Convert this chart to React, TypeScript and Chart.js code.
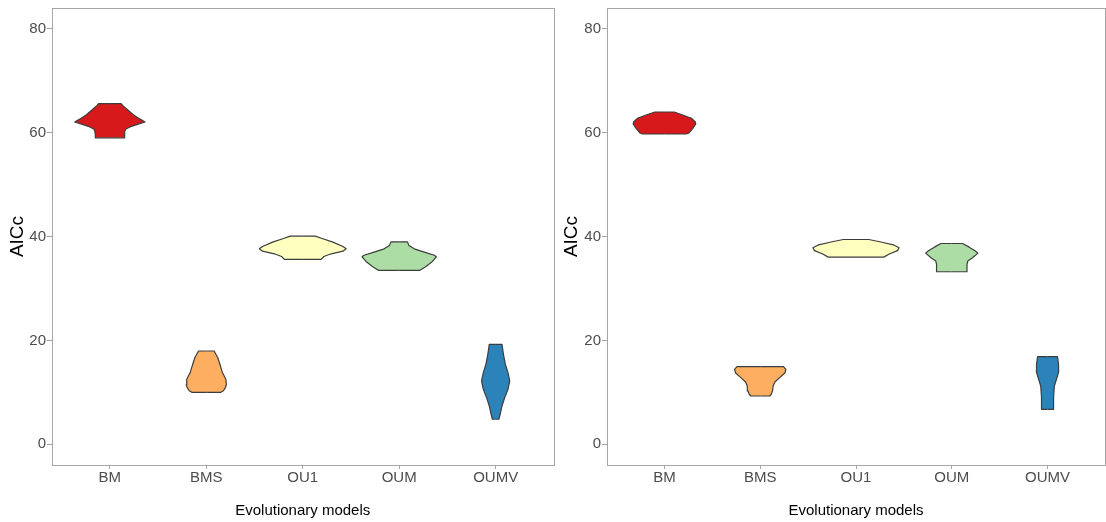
import React, { useEffect, useRef } from 'react';
import { Chart, registerables } from 'chart.js';

Chart.register(...registerables);

const CATEGORIES = ['BM', 'BMS', 'OU1', 'OUM', 'OUMV'];
const FILL_COLORS = ['#D7191C', '#FDAE61', '#FFFFBF', '#ABDDA4', '#2B83BA'];
const Y_TICKS = [0, 20, 40, 60, 80];
const Y_MIN = -4;
const Y_MAX = 84;
const X_TITLE = 'Evolutionary models';
const Y_TITLE = 'AICc';

// Violin profiles: AICc level (y) and half-width in category units (w)
// Left panel
const L_BM_Y = [59.0, 59.6, 60.25, 60.7, 61.1, 61.55, 62.05, 62.6, 63.45, 64.55, 65.2, 65.6];
const L_BM_W = [0.151, 0.151, 0.156, 0.167, 0.208, 0.278, 0.365, 0.313, 0.243, 0.174, 0.135, 0.117];
const L_BMS_Y = [10.0, 10.3, 10.9, 11.5, 12.5, 13.8, 15.1, 16.7, 17.95];
const L_BMS_W = [0.151, 0.177, 0.198, 0.208, 0.203, 0.167, 0.146, 0.118, 0.081];
const L_OU1_Y = [35.58, 36.15, 36.67, 37.18, 37.63, 38.08, 38.91, 39.62, 40.06];
const L_OU1_W = [0.19, 0.219, 0.295, 0.417, 0.45, 0.417, 0.313, 0.2, 0.13];
const L_OUM_Y = [33.46, 34.23, 35.19, 36.09, 36.38, 36.99, 37.63, 38.27, 38.97];
const L_OUM_W = [0.211, 0.278, 0.344, 0.385, 0.365, 0.26, 0.156, 0.101, 0.086];
const L_OUMV_Y = [4.81, 5.77, 7.37, 8.97, 10.58, 12.18, 13.78, 15.38, 17.31, 19.23];
const L_OUMV_W = [0.034, 0.047, 0.066, 0.094, 0.128, 0.146, 0.128, 0.101, 0.081, 0.066];

// Right panel
const R_BM_Y = [59.74, 59.94, 60.9, 61.73, 62.05, 62.76, 63.4, 63.97];
const R_BM_W = [0.229, 0.257, 0.3, 0.328, 0.323, 0.281, 0.191, 0.101];
const R_BMS_Y = [9.29, 9.62, 10.26, 11.22, 11.99, 12.82, 13.72, 14.42, 14.94];
const R_BMS_W = [0.099, 0.115, 0.128, 0.135, 0.153, 0.203, 0.257, 0.268, 0.243];
const R_OU1_Y = [36.03, 36.63, 37.28, 37.82, 38.4, 38.94, 39.42];
const R_OU1_W = [0.29, 0.347, 0.434, 0.45, 0.39, 0.26, 0.133];
const R_OUM_Y = [33.21, 34.62, 35.26, 35.9, 36.8, 37.24, 37.95, 38.65];
const R_OUM_W = [0.156, 0.159, 0.167, 0.217, 0.273, 0.243, 0.182, 0.113];
const R_OUMV_Y = [6.73, 8.97, 11.22, 12.82, 14.1, 15.38, 16.86];
const R_OUMV_W = [0.063, 0.063, 0.071, 0.099, 0.118, 0.115, 0.104];

const LEFT_Y = [L_BM_Y, L_BMS_Y, L_OU1_Y, L_OUM_Y, L_OUMV_Y];
const LEFT_W = [L_BM_W, L_BMS_W, L_OU1_W, L_OUM_W, L_OUMV_W];
const RIGHT_Y = [R_BM_Y, R_BMS_Y, R_OU1_Y, R_OUM_Y, R_OUMV_Y];
const RIGHT_W = [R_BM_W, R_BMS_W, R_OU1_W, R_OUM_W, R_OUMV_W];

const OUTLINE = '#3d3d3d';
const FRAME = '#a6a6a6';
const TICK_TEXT = '#4d4d4d';
const FONT = "'Liberation Sans', Arial, Helvetica, sans-serif";

function buildDatasets(ys: number[][], ws: number[][]) {
  const datasets: any[] = [];
  CATEGORIES.forEach((cat, i) => {
    const c = i + 1;
    const y = ys[i];
    const w = ws[i];
    const n = y.length;
    const edge = (sign: number) => [
      { x: c, y: y[0] },
      ...y.map((v, k) => ({ x: c + sign * w[k], y: v })),
      { x: c, y: y[n - 1] },
    ];
    const common = {
      borderColor: OUTLINE,
      borderWidth: 1.2,
      borderJoinStyle: 'round',
      pointRadius: 0,
      pointHoverRadius: 0,
      tension: 0,
    };
    datasets.push({ ...common, label: cat, data: edge(1), fill: '+1', backgroundColor: FILL_COLORS[i] });
    datasets.push({ ...common, label: cat + '-left', data: edge(-1), fill: false, backgroundColor: FILL_COLORS[i] });
  });
  return datasets;
}

const framePlugin = {
  id: 'frame',
  afterDraw(chart: any) {
    const { ctx, chartArea: a } = chart;
    const l = Math.round(a.left);
    const t = Math.round(a.top);
    const r = Math.round(a.right);
    const b = Math.round(a.bottom);
    ctx.save();
    ctx.strokeStyle = FRAME;
    ctx.lineWidth = 1;
    ctx.strokeRect(l + 0.5, t + 0.5, r - l, b - t);
    ctx.restore();
  },
};

type PanelProps = {
  ys: number[][];
  ws: number[][];
  left: number;
  width: number;
  yAxisWidth: number;
  padRight: number;
};

function Panel({ ys, ws, left, width, yAxisWidth, padRight }: PanelProps) {
  const ref = useRef<HTMLCanvasElement | null>(null);
  useEffect(() => {
    if (!ref.current) return;
    const chart = new Chart(ref.current, {
      type: 'line',
      data: { datasets: buildDatasets(ys, ws) },
      plugins: [framePlugin],
      options: {
        animation: false,
        responsive: false,
        devicePixelRatio: 1,
        indexAxis: 'y',
        layout: { padding: { left: 0, top: 8, right: padRight, bottom: 0 } },
        plugins: {
          legend: { display: false },
          tooltip: { enabled: false },
          filler: { drawTime: 'beforeDatasetsDraw' },
        },
        scales: {
          x: {
            type: 'linear',
            position: 'bottom',
            min: 0.4,
            max: 5.6,
            afterBuildTicks: (s: any) => {
              s.ticks = CATEGORIES.map((_, i) => ({ value: i + 1 }));
            },
            afterFit: (s: any) => {
              s.height = 57;
              s.paddingLeft = 0;
              s.paddingRight = 0;
            },
            ticks: {
              autoSkip: false,
              maxRotation: 0,
              padding: 0,
              color: TICK_TEXT,
              font: { family: FONT, size: 15 },
              callback: (v: any) => CATEGORIES[Math.round(Number(v)) - 1] ?? '',
            },
            grid: { drawOnChartArea: false, drawTicks: true, tickLength: 4, color: FRAME },
            border: { display: false },
            title: {
              display: true,
              text: X_TITLE,
              color: '#000',
              font: { family: FONT, size: 15 },
              padding: { top: 0, bottom: 2 },
            },
          },
          y: {
            type: 'linear',
            position: 'left',
            min: Y_MIN,
            max: Y_MAX,
            afterBuildTicks: (s: any) => {
              s.ticks = Y_TICKS.map((v) => ({ value: v }));
            },
            afterFit: (s: any) => {
              s.width = yAxisWidth;
              s.paddingTop = 0;
              s.paddingBottom = 0;
            },
            ticks: {
              padding: 1,
              color: TICK_TEXT,
              font: { family: FONT, size: 15 },
            },
            grid: { drawOnChartArea: false, drawTicks: true, tickLength: 5, color: FRAME },
            border: { display: false },
            title: {
              display: true,
              text: Y_TITLE,
              color: '#000',
              font: { family: FONT, size: 19 },
              padding: { top: 6, bottom: 0 },
            },
          },
        },
      } as any,
    });
    return () => chart.destroy();
  }, []);
  return (
    <canvas
      ref={ref}
      width={width}
      height={522}
      style={{ position: 'absolute', left, top: 0, width, height: 522 }}
    />
  );
}

export default function App() {
  return (
    <div style={{ position: 'absolute', left: 0, top: 0, width: 1106, height: 522, background: '#fff' }}>
      <Panel ys={LEFT_Y} ws={LEFT_W} left={0} width={555} yAxisWidth={52} padRight={1.5} />
      <Panel ys={RIGHT_Y} ws={RIGHT_W} left={554} width={552} yAxisWidth={53} padRight={1} />
    </div>
  );
}
